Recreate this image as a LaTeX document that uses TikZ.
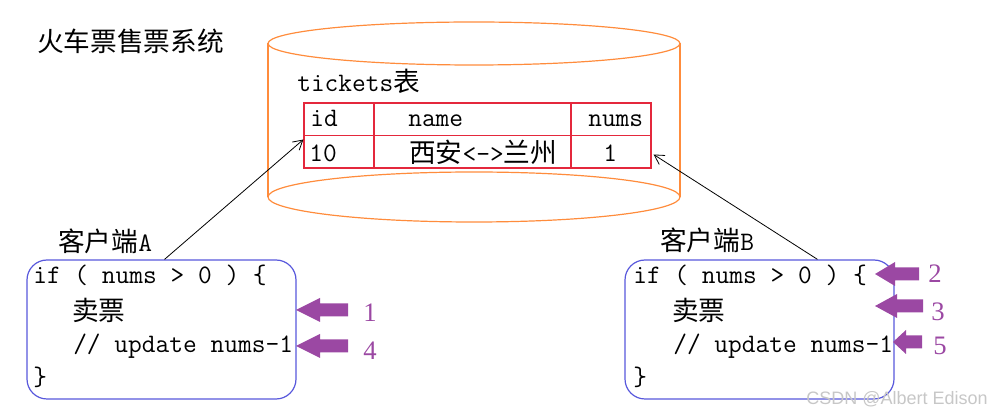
\documentclass[tikz,border=0pt]{standalone}
\usepackage{fontspec}
\newfontfamily\cjk{Noto Sans CJK SC}
\newfontfamily\numfont{Liberation Serif}
\newfontfamily\wmfont{Liberation Sans}
\usetikzlibrary{arrows.meta,fit,calc}
\definecolor{cylorange}{RGB}{255,140,60}
\definecolor{tblred}{RGB}{228,40,60}
\definecolor{boxblue}{RGB}{88,88,220}
\definecolor{purp}{RGB}{155,72,163}
\newcommand\purparrow[4]{%
  \fill[parrow] (#1,#2) -- (#3,#2-12) -- (#3,#2-6.5) -- (#4,#2-6.5) -- (#4,#2+6.5) -- (#3,#2+6.5) -- (#3,#2+12) -- cycle;}
\begin{document}
\begin{tikzpicture}[x=0.75pt,y=-0.75pt,
  txt/.style={font=\fontsize{20}{24}\selectfont\ttfamily, inner sep=0, anchor=base west},
  numlab/.style={font=\fontsize{20}{24}\selectfont\numfont, text=purp, inner sep=0, anchor=base},
  cyl/.style={draw=cylorange, line width=0.9pt},
  client/.style={draw=boxblue, line width=0.9pt, rounded corners=15pt, inner sep=0},
  parrow/.style={fill=purp},
  ptr/.style={draw=black, line width=0.6pt, -{Straight Barb[length=7pt,width=8pt]}}]
\useasboundingbox (0,0) rectangle (990,416);
% title
\node[txt] (title) at (37,52) {\cjk 火车票售票系统};
% cylinder
\draw[cyl] (474,197) ellipse [x radius=206, y radius=25];
\fill[white] (268,43) rectangle (680,197);
\draw[cyl] (268,43) -- (268,197);
\draw[cyl] (680,43) -- (680,197);
\draw[cyl] (268,197) arc[start angle=180, end angle=0, x radius=206, y radius=-25];
\draw[cyl] (474,43.5) ellipse [x radius=206, y radius=21.5];
% table
\node[txt] (tname) at (297,92) {tickets{\cjk 表}};
\node[fit={(304,103) (651,168)}, inner sep=0, draw=tblred, line width=0.9pt] (tbl) {};
\draw[tblred, line width=0.9pt] (tbl.west) -- (tbl.east);
\draw[tblred, line width=0.9pt] (374,103) -- (374,168);
\draw[tblred, line width=0.9pt] (571,103) -- (571,168);
\node[txt] (hid) at (310,127) {id};
\node[txt] (hname) at (408,127) {name};
\node[txt] (hnums) at (588,127) {nums};
\node[txt] (cid) at (309,162) {10};
\node[txt] (cname) at (409,163) {{\cjk 西安}<->{\cjk 兰州}};
\node[txt] (cnums) at (603,162) {1};
% client A
\node[txt] (labA) at (58,252) {{\cjk 客户端}A};
\node[client, fit={(27,260) (296,399)}] (boxA) {};
\node[txt] (a1) at (33,284) {if ( nums > 0 ) \{};
\node[txt] (a2) at (72,321) {\cjk 卖票};
\node[txt] (a3) at (73,353) {// update nums-1};
\node[txt] (a4) at (33,386) {\}};
% client B
\node[txt] (labB) at (660,251) {{\cjk 客户端}B};
\node[client, fit={(625,260) (894,399)}] (boxB) {};
\node[txt] (b1) at (633,284) {if ( nums > 0 ) \{};
\node[txt] (b2) at (672,321) {\cjk 卖票};
\node[txt] (b3) at (673,353) {// update nums-1};
\node[txt] (b4) at (633,386) {\}};
% connectors
\draw[ptr] ($(boxA.north)+(3,0)$) -- ($(tbl.west)+(0,4)$);
\draw[ptr] ($(boxB.north)+(58,0)$) -- ($(tbl.east)+(2,19)$);
% purple pointers
\purparrow{296}{310}{320}{348}
\purparrow{296}{346}{320}{348}
\purparrow{875}{274}{895}{919}
\purparrow{875}{306}{897}{923}
\purparrow{893}{342}{906}{922}
\node[numlab] (n1) at (370,322) {1};
\node[numlab] (n4) at (370,360) {4};
\node[numlab] (n2) at (935,283) {2};
\node[numlab] (n3) at (938,321) {3};
\node[numlab] (n5) at (940,355) {5};
% watermark
\node[font=\fontsize{13.5}{16}\selectfont\wmfont, text=black!22, inner sep=0, anchor=base west] (wm) at (806,405) {CSDN @Albert Edison};
\end{tikzpicture}
\end{document}
